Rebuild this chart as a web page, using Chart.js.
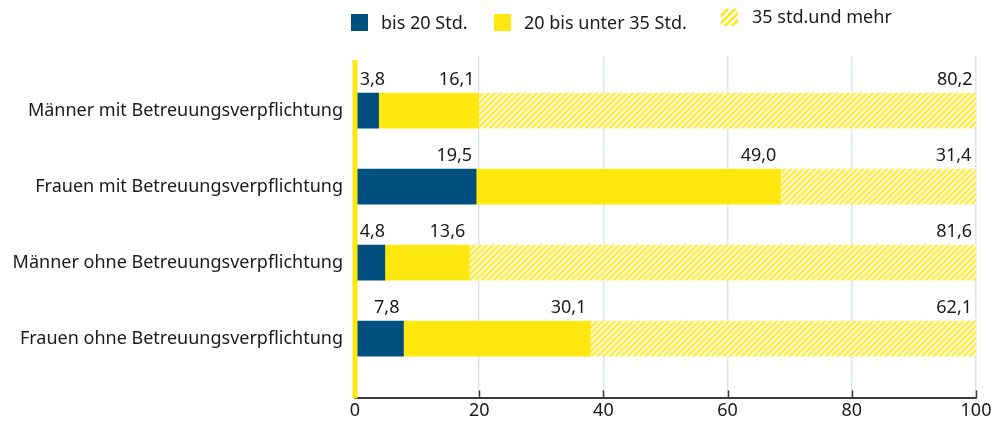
<!DOCTYPE html>
<html lang="de">
<head>
  <meta charset="UTF-8">
  <title>Arbeitszeit nach Betreuungsverpflichtung</title>
  <script src="https://cdn.jsdelivr.net/npm/chart.js"></script>
  <style>
    body { margin: 0; background: #fff; font-family: "Noto Sans", sans-serif; color: #1a1a1a; }
    .wrap { position: relative; width: 994px; height: 424px; }
    .legend-item { position: absolute; font-size: 18px; line-height: 18px; white-space: nowrap; }
    .swatch { position: absolute; width: 17px; height: 17px; }
  </style>
</head>
<body>
  <div class="wrap">
    <canvas id="chart" width="994" height="424"></canvas>
    <div class="swatch" style="left:351px; top:14px; background:#00507f;"></div>
    <div class="legend-item" style="left:381px; top:13px;">bis 20 Std.</div>
    <div class="swatch" style="left:494px; top:14px; background:#fce80e;"></div>
    <div class="legend-item" style="left:524px; top:13px;">20 bis unter 35 Std.</div>
    <div class="swatch" style="left:721px; top:9px; background:repeating-linear-gradient(-45deg, #fffbe0 0 3px, #fce80e 3px 5px);"></div>
    <div class="legend-item" style="left:752px; top:7px;">35 std.und mehr</div>
  </div>
  <script>
    const categories = [
      'Männer mit Betreuungsverpflichtung',
      'Frauen mit Betreuungsverpflichtung',
      'Männer ohne Betreuungsverpflichtung',
      'Frauen ohne Betreuungsverpflichtung'
    ];
    const bis20 = [3.8, 19.5, 4.8, 7.8];
    const bis35 = [16.1, 49.0, 13.6, 30.1];
    const ab35 = [80.2, 31.4, 81.6, 62.1];
    const xTicks = [0, 20, 40, 60, 80, 100];

    // hatch pattern for "35 std. und mehr"
    function makeHatch() {
      const c = document.createElement('canvas');
      c.width = 6; c.height = 6;
      const g = c.getContext('2d');
      g.fillStyle = '#fff9cc';
      g.fillRect(0, 0, 6, 6);
      g.strokeStyle = '#fce80e';
      g.lineWidth = 1.5;
      g.beginPath();
      g.moveTo(0, 6); g.lineTo(6, 0);
      g.moveTo(-3, 3); g.lineTo(3, -3);
      g.moveTo(3, 9); g.lineTo(9, 3);
      g.stroke();
      return g.createPattern(c, 'repeat');
    }

    const toPoints = arr => arr.map((v, i) => ({ x: v, y: i }));

    const fmt = v => v.toFixed(1).replace('.', ',');

    const valueLabels = {
      id: 'valueLabels',
      afterDatasetsDraw(chart) {
        const ctx = chart.ctx;
        ctx.save();
        ctx.font = '18px "Noto Sans"';
        ctx.fillStyle = '#1a1a1a';
        ctx.textAlign = 'right';
        ctx.textBaseline = 'alphabetic';
        chart.data.datasets.forEach((ds, di) => {
          chart.getDatasetMeta(di).data.forEach((bar, i) => {
            const txt = fmt(ds.data[i].x);
            const w = ctx.measureText(txt).width;
            const right = Math.max(bar.x - 4, bar.base + 4 + w);
            ctx.fillText(txt, right, bar.y - bar.height / 2 - 8);
          });
        });
        ctx.restore();
      }
    };

    const axisDecor = {
      id: 'axisDecor',
      afterDatasetsDraw(chart) {
        const ctx = chart.ctx;
        const x = chart.scales.x;
        const area = chart.chartArea;
        ctx.save();
        ctx.strokeStyle = '#3c3c3c';
        ctx.lineWidth = 1.5;
        xTicks.slice(1).forEach(t => {
          const px = Math.round(x.getPixelForValue(t)) + 0.5;
          ctx.beginPath();
          ctx.moveTo(px, area.bottom - 8);
          ctx.lineTo(px, area.bottom);
          ctx.stroke();
        });
        ctx.fillStyle = '#fce80e';
        const x0 = x.getPixelForValue(0);
        ctx.fillRect(x0 - 2.5, 60, 5, area.bottom - 60);
        ctx.restore();
      }
    };

    new Chart(document.getElementById('chart'), {
      type: 'bar',
      data: {
        datasets: [{
          label: 'bis 20 Std.',
          data: toPoints(bis20),
          backgroundColor: '#00507f'
        }, {
          label: '20 bis unter 35 Std.',
          data: toPoints(bis35),
          backgroundColor: '#fce80e'
        }, {
          label: '35 std.und mehr',
          data: toPoints(ab35),
          backgroundColor: makeHatch()
        }]
      },
      options: {
        indexAxis: 'y',
        responsive: false,
        animation: false,
        datasets: { bar: { barThickness: 35 } },
        layout: { padding: { top: 56, right: 18, left: 0, bottom: 0 } },
        plugins: { legend: { display: false }, tooltip: { enabled: false } },
        scales: {
          x: {
            type: 'linear',
            stacked: true,
            min: 0,
            max: 100,
            afterBuildTicks: s => { s.ticks = xTicks.map(v => ({ value: v })); },
            grid: {
              color: ctx => ctx.tick && ctx.tick.value === 0 ? 'rgba(0,0,0,0)' : '#dce5ed',
              lineWidth: 1.5,
              drawTicks: false
            },
            border: { display: true, color: '#3c3c3c', width: 2 },
            ticks: {
              padding: 2,
              color: '#1a1a1a',
              font: { family: 'Noto Sans', size: 18 }
            }
          },
          y: {
            type: 'linear',
            stacked: true,
            reverse: true,
            offset: false,
            min: -0.718,
            max: 3.786,
            afterBuildTicks: s => { s.ticks = categories.map((_, i) => ({ value: i })); },
            afterFit: s => { s.width = 355; },
            grid: { display: false, drawTicks: false },
            border: { display: false },
            ticks: {
              padding: 12,
              color: '#1a1a1a',
              font: { family: 'Noto Sans', size: 18 },
              callback: v => categories[v] ?? ''
            }
          }
        }
      },
      plugins: [valueLabels, axisDecor]
    });
  </script>
</body>
</html>
